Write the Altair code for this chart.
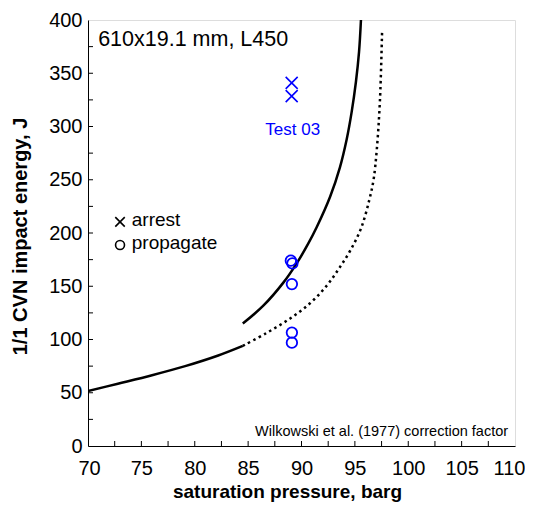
import altair as alt
import pandas as pd

# ---- data ----
lower_p = [70, 72.8, 76, 79.1, 82.2, 84.5]
lower_e = [51.6, 58.5, 66.5, 75, 85, 94]

dotted_p = [84.5, 86.7, 88.9, 90.8, 92.4, 93.6, 94.6, 95.6, 96.35, 96.75, 97.05, 97.35, 97.55]
dotted_e = [94, 106, 119.5, 134, 151, 168, 184, 205, 231, 250, 278, 325, 390]

upper_p = [84.5, 86.4, 88.3, 89.55, 90.64, 91.42, 92.67, 93.6, 94.23, 94.7, 95.1, 95.39, 95.57]
upper_e = [115, 131.5, 153.4, 171.5, 190.2, 205.4, 233.8, 261.7, 287.8, 313.7, 342, 370, 400]

arrest_p = [89.08, 89.08]
arrest_e = [341, 328.5]

prop_p = [89.0, 89.15, 89.1, 89.1, 89.1]
prop_e = [174, 171.5, 152, 106.5, 97]

x_tick_labels = [70, 75, 80, 85, 90, 95, 100, 105, 110]
y_tick_labels = [0, 50, 100, 150, 200, 250, 300, 350, 400]
x_minor = [72.5, 75, 77.5, 80, 82.5, 85, 87.5, 90, 92.5, 95, 97.5, 100, 102.5, 105, 107.5]
y_minor = [25, 50, 75, 100, 125, 150, 175, 200, 225, 250, 275, 300, 325, 350, 375]

notes_text = ["610x19.1 mm, L450"]
notes_p = [70.95]
notes_e = [375.5]

test_text = ["Test 03"]
test_p = [89.18]
test_e = [292]

legend_labels = ["arrest", "propagate"]
legend_sym_p = [73.0, 73.0]
legend_sym_e = [210.5, 188.7]
legend_txt_p = [74.1, 74.1]
legend_txt_e = [206.2, 184.7]

source_text = ["Wilkowski et al. (1977) correction factor"]
source_p = [109.35]
source_e = [9]

W, H = 427, 426
FONT = "Liberation Sans"
BLUE = "#0000FF"
XPATH = "M-1,-1L1,1M-1,1L1,-1"

xs = alt.Scale(domain=[70, 110], nice=False, zero=False)
ys = alt.Scale(domain=[0, 400], nice=False, zero=False)

x_axis = alt.Axis(values=x_tick_labels, ticks=False, tickSize=0, labelPadding=12,
                  labelFontSize=20, labelFont=FONT, labelColor="black",
                  labelFlush=True, labelFlushOffset=10,
                  title="saturation pressure, barg", titleFontSize=19, titleFont=FONT,
                  titleFontWeight="bold", titleColor="black", titleX=199, titleY=45,
                  titleBaseline="middle", titleAlign="center",
                  domainColor="black", domainWidth=1, grid=False)
y_axis = alt.Axis(values=y_tick_labels, ticks=False, tickSize=0, labelPadding=6,
                  labelFontSize=20, labelFont=FONT, labelColor="black", labelFlush=False,
                  title="1/1 CVN impact energy, J", titleFontSize=20, titleFont=FONT,
                  titleFontWeight="bold", titleColor="black", titleX=-68, titleY=216,
                  titleBaseline="middle", titleAlign="center",
                  domainColor="black", domainWidth=1, grid=False)


def X():
    return alt.X("p:Q", scale=xs, axis=x_axis)


def Y():
    return alt.Y("e:Q", scale=ys, axis=y_axis)


lower = alt.Chart(pd.DataFrame({"p": lower_p, "e": lower_e})).mark_line(
    color="black", strokeWidth=2.5, interpolate="catmull-rom", clip=True).encode(x=X(), y=Y())
dotted = alt.Chart(pd.DataFrame({"p": dotted_p, "e": dotted_e})).mark_line(
    color="black", strokeWidth=2.5, strokeDash=[2.5, 3.5], interpolate="catmull-rom", clip=True
).encode(x=X(), y=Y())
upper = alt.Chart(pd.DataFrame({"p": upper_p, "e": upper_e})).mark_line(
    color="black", strokeWidth=2.5, interpolate="catmull-rom", clip=True).encode(x=X(), y=Y())

arrest = alt.Chart(pd.DataFrame({"p": arrest_p, "e": arrest_e})).mark_point(
    shape=XPATH, size=144, stroke=BLUE, strokeWidth=1.6, filled=False, opacity=1
).encode(x=X(), y=Y())
prop = alt.Chart(pd.DataFrame({"p": prop_p, "e": prop_e})).mark_point(
    shape="circle", size=110, stroke=BLUE, strokeWidth=1.8, filled=False, opacity=1
).encode(x=X(), y=Y())

xt = alt.Chart(pd.DataFrame({"p": x_minor})).mark_rule(color="black", strokeWidth=1).encode(
    x=X(), y=alt.value(H), y2=alt.value(H - 5))
yt = alt.Chart(pd.DataFrame({"e": y_minor})).mark_rule(color="black", strokeWidth=1).encode(
    y=Y(), x=alt.value(0), x2=alt.value(5))

note = alt.Chart(pd.DataFrame({"p": notes_p, "e": notes_e, "t": notes_text})).mark_text(
    align="left", baseline="alphabetic", fontSize=21.5, font=FONT, color="black"
).encode(x=X(), y=Y(), text="t:N")
test = alt.Chart(pd.DataFrame({"p": test_p, "e": test_e, "t": test_text})).mark_text(
    align="center", baseline="alphabetic", fontSize=17, font=FONT, color=BLUE
).encode(x=X(), y=Y(), text="t:N")

leg_sym_df = pd.DataFrame({"p": legend_sym_p, "e": legend_sym_e, "t": legend_labels})
leg_x = alt.Chart(leg_sym_df.iloc[[0]]).mark_point(
    shape=XPATH, size=90, stroke="black", strokeWidth=1.6, filled=False, opacity=1
).encode(x=X(), y=Y())
leg_o = alt.Chart(leg_sym_df.iloc[[1]]).mark_point(
    shape="circle", size=80, stroke="black", strokeWidth=1.6, filled=False, opacity=1
).encode(x=X(), y=Y())
leg_txt = alt.Chart(pd.DataFrame({"p": legend_txt_p, "e": legend_txt_e, "t": legend_labels})).mark_text(
    align="left", baseline="alphabetic", fontSize=19, font=FONT, color="black"
).encode(x=X(), y=Y(), text="t:N")

src = alt.Chart(pd.DataFrame({"p": source_p, "e": source_e, "t": source_text})).mark_text(
    align="right", baseline="alphabetic", fontSize=14.5, font=FONT, color="black"
).encode(x=X(), y=Y(), text="t:N")

chart = alt.layer(
    lower, dotted, upper, xt, yt, prop, arrest, note, test, leg_x, leg_o, leg_txt, src
).properties(
    width=W, height=H,
    autosize=alt.AutoSizeParams(type="none"),
    padding={"left": 80, "top": 12, "right": 10, "bottom": 56},
).configure_view(
    stroke="#555555", strokeWidth=1
).configure(font=FONT, background="white")

chart.save("out.html", embed_options={"renderer": "svg", "actions": False})
